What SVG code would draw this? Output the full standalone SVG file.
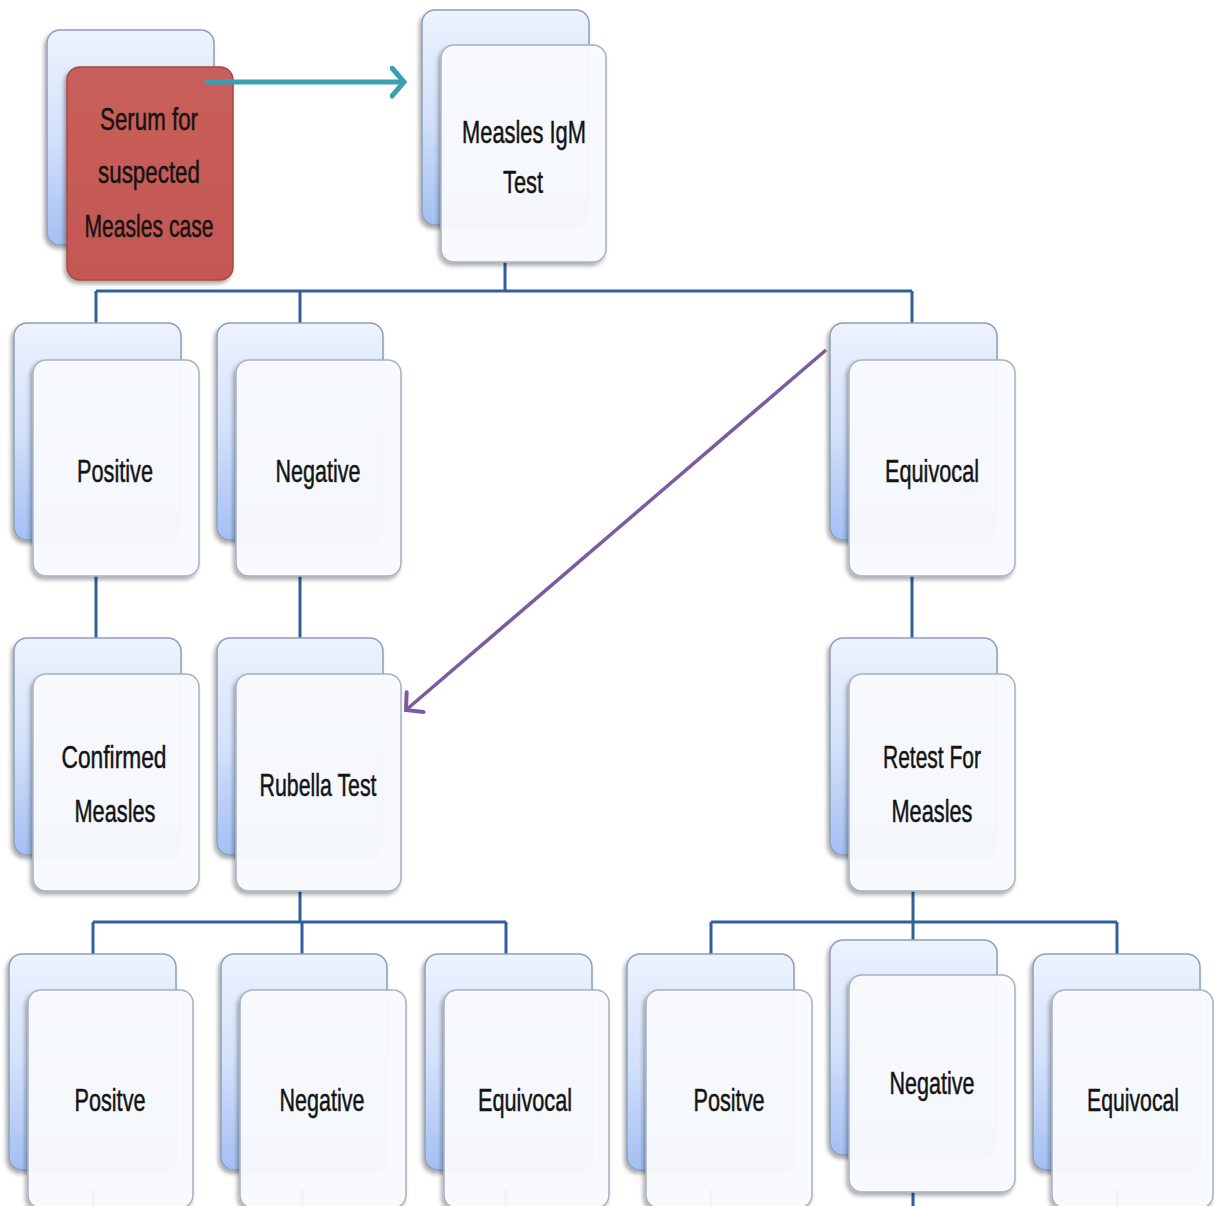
<svg xmlns="http://www.w3.org/2000/svg" width="1214" height="1206" viewBox="0 0 1214 1206">
<defs>
<linearGradient id="backg" x1="0" y1="0" x2="0" y2="1">
<stop offset="0" stop-color="#edf3fe"/>
<stop offset="0.5" stop-color="#d3e1fb"/>
<stop offset="1" stop-color="#a3bff3"/>
</linearGradient>
<linearGradient id="redg" x1="0" y1="0" x2="0" y2="1">
<stop offset="0" stop-color="#c95f5b"/>
<stop offset="1" stop-color="#c45753"/>
</linearGradient>
<filter id="sh" x="-20%" y="-20%" width="140%" height="140%">
<feDropShadow dx="-2" dy="3" stdDeviation="2" flood-color="#000" flood-opacity="0.35"/>
</filter>
<marker id="tealHead" markerUnits="userSpaceOnUse" markerWidth="24" markerHeight="36" refX="14" refY="16" orient="auto" viewBox="0 0 24 36">
<path d="M2,2 L14,16 L2,30" fill="none" stroke="#3a9fae" stroke-width="5" stroke-linecap="round"/>
</marker>
<marker id="purpleHead" markerUnits="userSpaceOnUse" markerWidth="24" markerHeight="36" refX="14" refY="16" orient="auto" viewBox="0 0 24 36">
<path d="M2,3 L14,16 L2,29" fill="none" stroke="#7b5d9f" stroke-width="4" stroke-linecap="round"/>
</marker>
</defs>
<style>
.back{fill:url(#backg);stroke:#8e9fb8;stroke-width:1.5;filter:url(#sh)}
.front{fill:#fafcff;fill-opacity:0.94;stroke:#a7b2c2;stroke-width:1.5;filter:url(#sh)}
.red{fill:url(#redg);stroke:#a94744;stroke-width:1.5;filter:url(#sh)}
.t{font-family:"Liberation Sans",Arial,sans-serif;font-size:32px;fill:#141414;stroke:#141414;stroke-width:0.5;text-anchor:middle}
.c{fill:none;stroke:#30609c;stroke-width:3}
</style>
<rect width="1214" height="1206" fill="#ffffff"/>

<g id="connectors">
<path class="c" d="M505,262 V291 M96,291 H912 M96,291 V326 M300,291 V326 M912,291 V326"/>
<path class="c" d="M96,576 V641 M300,576 V641 M912,576 V641"/>
<path class="c" d="M300,891 V922 M93,922 H506 M93,922 V956 M302,922 V956 M506,922 V956"/>
<path class="c" d="M913,891 V942 M711,922 H1117 M711,922 V956 M1117,922 V956"/>
<path class="c" d="M93,1190 V1206 M302,1190 V1206 M506,1190 V1206 M711,1190 V1206 M913,1192 V1206 M1117,1190 V1206"/>
</g>

<g id="n-serum">
<rect class="back" x="47" y="30" width="167" height="215" rx="13"/>
<rect class="red" x="67" y="67" width="166" height="213" rx="13"/>
<text class="t" x="149" y="130" textLength="98" lengthAdjust="spacingAndGlyphs">Serum for</text>
<text class="t" x="149" y="183" textLength="102" lengthAdjust="spacingAndGlyphs">suspected</text>
<text class="t" x="149" y="237" textLength="129" lengthAdjust="spacingAndGlyphs">Measles case</text>
</g>

<g id="n-igm">
<rect class="back" x="422" y="10" width="167" height="215" rx="13"/>
<rect class="front" x="441" y="45" width="165" height="217" rx="13"/>
<text class="t" x="524" y="143" textLength="124" lengthAdjust="spacingAndGlyphs">Measles IgM</text>
<text class="t" x="523" y="193" textLength="40" lengthAdjust="spacingAndGlyphs">Test</text>
</g>

<g id="n-positive">
<rect class="back" x="14" y="323" width="167" height="217" rx="13"/>
<rect class="front" x="33" y="360" width="166" height="216" rx="13"/>
<text class="t" x="115" y="482" textLength="76" lengthAdjust="spacingAndGlyphs">Positive</text>
</g>

<g id="n-negative">
<rect class="back" x="217" y="323" width="166" height="217" rx="13"/>
<rect class="front" x="236" y="360" width="165" height="216" rx="13"/>
<text class="t" x="318" y="482" textLength="85" lengthAdjust="spacingAndGlyphs">Negative</text>
</g>

<g id="n-equivocal">
<rect class="back" x="830" y="323" width="167" height="217" rx="13"/>
<rect class="front" x="849" y="360" width="166" height="216" rx="13"/>
<text class="t" x="932" y="482" textLength="94" lengthAdjust="spacingAndGlyphs">Equivocal</text>
</g>

<g id="n-confirmed">
<rect class="back" x="14" y="638" width="167" height="217" rx="13"/>
<rect class="front" x="33" y="674" width="166" height="217" rx="13"/>
<text class="t" x="114" y="768" textLength="105" lengthAdjust="spacingAndGlyphs">Confirmed</text>
<text class="t" x="115" y="822" textLength="81" lengthAdjust="spacingAndGlyphs">Measles</text>
</g>

<g id="n-rubella">
<rect class="back" x="217" y="638" width="166" height="217" rx="13"/>
<rect class="front" x="236" y="674" width="165" height="217" rx="13"/>
<text class="t" x="318" y="796" textLength="117" lengthAdjust="spacingAndGlyphs">Rubella Test</text>
</g>

<g id="n-retest">
<rect class="back" x="830" y="638" width="167" height="217" rx="13"/>
<rect class="front" x="849" y="674" width="166" height="217" rx="13"/>
<text class="t" x="932" y="768" textLength="98" lengthAdjust="spacingAndGlyphs">Retest For</text>
<text class="t" x="932" y="822" textLength="81" lengthAdjust="spacingAndGlyphs">Measles</text>
</g>

<g id="n-r-positve">
<rect class="back" x="9" y="954" width="167" height="216" rx="13"/>
<rect class="front" x="28" y="990" width="165" height="218" rx="13"/>
<text class="t" x="110" y="1111" textLength="71" lengthAdjust="spacingAndGlyphs">Positve</text>
</g>

<g id="n-r-negative">
<rect class="back" x="221" y="954" width="166" height="216" rx="13"/>
<rect class="front" x="240" y="990" width="166" height="218" rx="13"/>
<text class="t" x="322" y="1111" textLength="85" lengthAdjust="spacingAndGlyphs">Negative</text>
</g>

<g id="n-r-equivocal">
<rect class="back" x="425" y="954" width="167" height="216" rx="13"/>
<rect class="front" x="444" y="990" width="165" height="218" rx="13"/>
<text class="t" x="525" y="1111" textLength="94" lengthAdjust="spacingAndGlyphs">Equivocal</text>
</g>

<g id="n-m-positve">
<rect class="back" x="627" y="954" width="167" height="216" rx="13"/>
<rect class="front" x="646" y="990" width="166" height="218" rx="13"/>
<text class="t" x="729" y="1111" textLength="71" lengthAdjust="spacingAndGlyphs">Positve</text>
</g>

<g id="n-m-negative">
<rect class="back" x="830" y="940" width="167" height="215" rx="13"/>
<rect class="front" x="849" y="975" width="166" height="217" rx="13"/>
<text class="t" x="932" y="1094" textLength="85" lengthAdjust="spacingAndGlyphs">Negative</text>
</g>

<g id="n-m-equivocal">
<rect class="back" x="1033" y="954" width="167" height="216" rx="13"/>
<rect class="front" x="1052" y="990" width="161" height="218" rx="13"/>
<text class="t" x="1133" y="1111" textLength="92" lengthAdjust="spacingAndGlyphs">Equivocal</text>
</g>

<g id="arrows">
<line x1="205" y1="82" x2="404" y2="82" stroke="#3a9fae" stroke-width="5" marker-end="url(#tealHead)"/>
<line x1="826" y1="350" x2="406" y2="710" stroke="#7b5d9f" stroke-width="3.5" marker-end="url(#purpleHead)"/>
</g>
</svg>
